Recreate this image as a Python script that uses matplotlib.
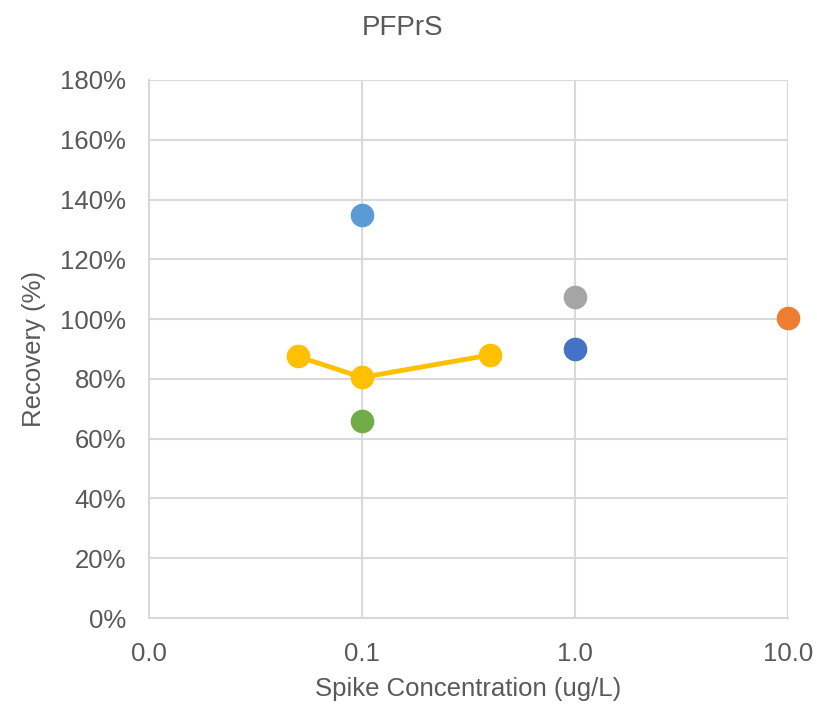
import numpy as np
import matplotlib.pyplot as plt
from matplotlib.ticker import FixedLocator, FixedFormatter, NullLocator

plt.rcParams['font.family'] = ['Liberation Sans', 'DejaVu Sans']

# yellow series (line with markers)
line_x = [0.05, 0.1, 0.4]
line_y = [87.5, 80.5, 88.0]

# single points
pt_x = [0.1, 0.1, 1.0, 1.0, 10.0]
pt_y = [135.0, 66.0, 107.5, 90.0, 100.5]
pt_colors = ['#5B9BD5', '#70AD47', '#A5A5A5', '#4472C4', '#ED7D31']

xticks = [0.01, 0.1, 1.0, 10.0]
xtick_labels = ['0.0', '0.1', '1.0', '10.0']
yticks = np.arange(0, 181, 20)

text_col = '#595959'
grid_col = '#D9D9D9'

fig = plt.figure(figsize=(8.17, 7.06), dpi=100)
ax = fig.add_axes([0.1824, 0.1246, 0.9645 - 0.1824, 0.8867 - 0.1246])

ax.set_xscale('log')
ax.set_xlim(0.01, 10)
ax.set_ylim(0, 180)

for x, y, c in zip(pt_x, pt_y, pt_colors):
    ax.plot(x, y, 'o', color=c, markersize=16, zorder=3, clip_on=False)

ax.plot(line_x, line_y, '-o', color='#FFC000', lw=3.5, markersize=16, zorder=4)

ax.xaxis.set_major_locator(FixedLocator(xticks))
ax.xaxis.set_major_formatter(FixedFormatter(xtick_labels))
ax.xaxis.set_minor_locator(NullLocator())
ax.set_yticks(yticks)
ax.set_yticklabels([f'{v}%' for v in yticks])

ax.grid(True, color=grid_col, lw=1.5)
ax.set_axisbelow(True)
for s in ['top', 'right']:
    ax.spines[s].set_visible(False)
for s in ['left', 'bottom']:
    ax.spines[s].set_color(grid_col)
    ax.spines[s].set_linewidth(1.5)
ax.tick_params(length=0, labelsize=18.5, labelcolor=text_col)
ax.tick_params(axis='x', pad=17)
ax.tick_params(axis='y', pad=16.5)

ax.set_xlabel('Spike Concentration (ug/L)', fontsize=18.5, color=text_col, labelpad=8.5)
ax.set_ylabel('Recovery (%)', fontsize=18.5, color=text_col, labelpad=10)
fig.text(0.493, 1 - 28 / 706, 'PFPrS', fontsize=20, color=text_col,
         ha='center', va='center')

fig.savefig('out.png', dpi=100)
